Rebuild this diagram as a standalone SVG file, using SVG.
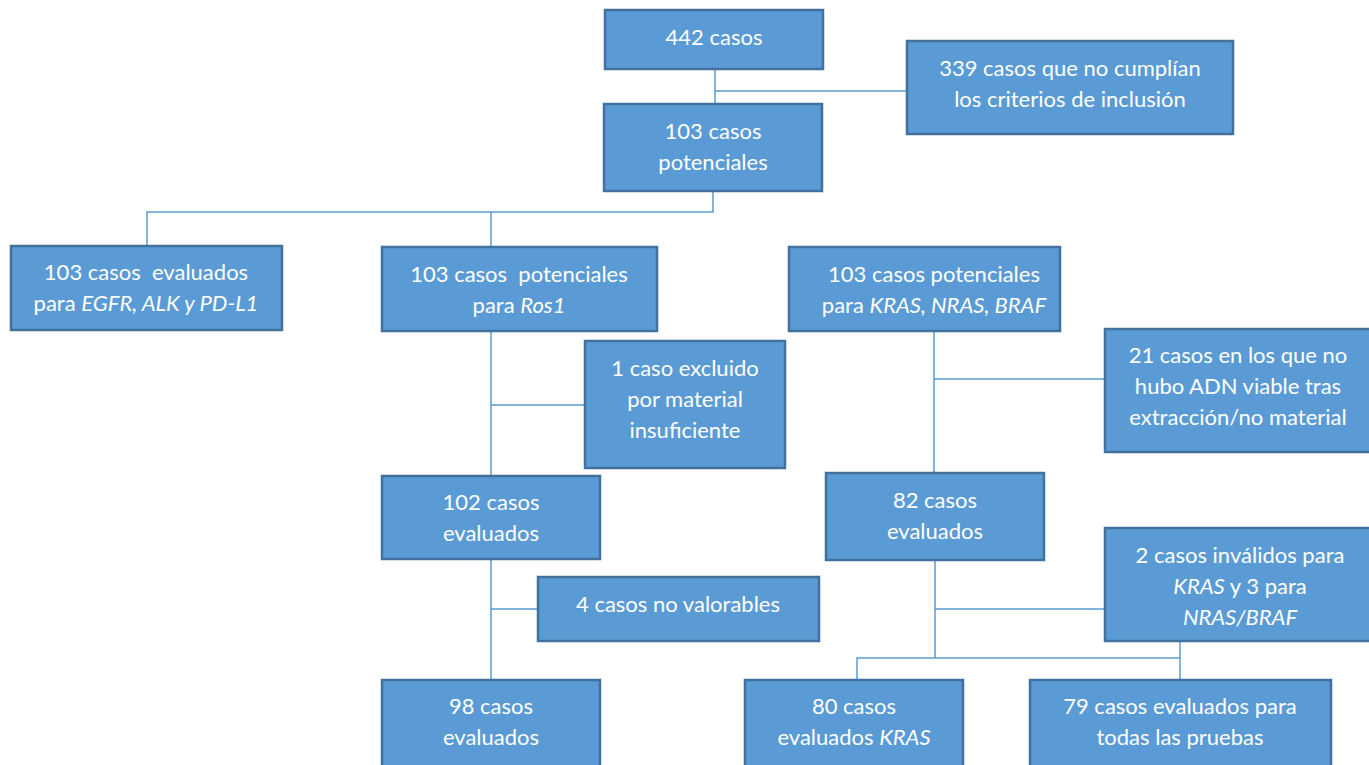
<svg xmlns="http://www.w3.org/2000/svg" width="1369" height="765" viewBox="0 0 1369 765">
<style>
.box{fill:#5B9BD5;stroke:#41719C;stroke-width:2.5}
.t{font-family:Lato,"Liberation Sans",sans-serif;font-size:22px;fill:#ffffff;text-anchor:middle}
.i{font-style:italic}
.c{stroke:#5B9BD5;stroke-width:1.5;fill:none}
</style>
<rect width="1369" height="765" fill="#ffffff"/>
<g id="connectors">
<path class="c" d="M715 69V104M715 91H907"/>
<path class="c" d="M713 191V212H147V246M491 212V247"/>
<path class="c" d="M491 331V476M491 405H585"/>
<path class="c" d="M491 559V680M491 609H538"/>
<path class="c" d="M934 331V473M934 379H1105"/>
<path class="c" d="M935 560V658M935 609H1105"/>
<path class="c" d="M857 680V658H1180M1180 641V680"/>
</g>
<g id="n442"><rect class="box" x="605" y="10" width="218" height="59"/><text class="t" x="714" y="45">442 casos</text></g>
<g id="n339"><rect class="box" x="907" y="41" width="326" height="93"/><text class="t" x="1070" y="76">339 casos que no cumplían</text><text class="t" x="1070" y="107">los criterios de inclusión</text></g>
<g id="n103p"><rect class="box" x="604" y="104" width="218" height="87"/><text class="t" x="713" y="139">103 casos</text><text class="t" x="713" y="170">potenciales</text></g>
<g id="nEGFR"><rect class="box" x="11" y="246" width="271" height="84"/><text class="t" x="146" y="280" xml:space="preserve">103 casos  evaluados</text><text class="t" x="146" y="311">para <tspan class="i">EGFR, ALK y PD-L1</tspan></text></g>
<g id="nRos1"><rect class="box" x="382" y="247" width="275" height="84"/><text class="t" x="519" y="282" xml:space="preserve">103 casos  potenciales</text><text class="t" x="519" y="313">para <tspan class="i">Ros1</tspan></text></g>
<g id="nKRAS"><rect class="box" x="789" y="247" width="271" height="84"/><text class="t" x="934" y="282">103 casos potenciales</text><text class="t" x="934" y="313">para <tspan class="i">KRAS, NRAS, BRAF</tspan></text></g>
<g id="n1caso"><rect class="box" x="585" y="341" width="200" height="127"/><text class="t" x="685" y="376">1 caso excluido</text><text class="t" x="685" y="407">por material</text><text class="t" x="685" y="438">insuficiente</text></g>
<g id="n21"><rect class="box" x="1105" y="329" width="266" height="123"/><text class="t" x="1238" y="363">21 casos en los que no</text><text class="t" x="1238" y="394">hubo ADN viable tras</text><text class="t" x="1238" y="425">extracción/no material</text></g>
<g id="n102"><rect class="box" x="382" y="476" width="218" height="83"/><text class="t" x="491" y="510">102 casos</text><text class="t" x="491" y="541">evaluados</text></g>
<g id="n82"><rect class="box" x="826" y="473" width="218" height="87"/><text class="t" x="935" y="508">82 casos</text><text class="t" x="935" y="539">evaluados</text></g>
<g id="ninv"><rect class="box" x="1105" y="528" width="266" height="113"/><text class="t" x="1240" y="563">2 casos inválidos para</text><text class="t" x="1240" y="594"><tspan class="i">KRAS</tspan> y 3 para</text><text class="t" x="1240" y="625" font-style="italic">NRAS/BRAF</text></g>
<g id="n4"><rect class="box" x="538" y="577" width="281" height="64"/><text class="t" x="678" y="612">4 casos no valorables</text></g>
<g id="n98"><rect class="box" x="382" y="680" width="218" height="90"/><text class="t" x="491" y="714">98 casos</text><text class="t" x="491" y="745">evaluados</text></g>
<g id="n80"><rect class="box" x="745" y="680" width="218" height="90"/><text class="t" x="854" y="714">80 casos</text><text class="t" x="854" y="745">evaluados <tspan class="i">KRAS</tspan></text></g>
<g id="n79"><rect class="box" x="1030" y="680" width="301" height="90"/><text class="t" x="1180" y="714">79 casos evaluados para</text><text class="t" x="1180" y="745">todas las pruebas</text></g>
</svg>
